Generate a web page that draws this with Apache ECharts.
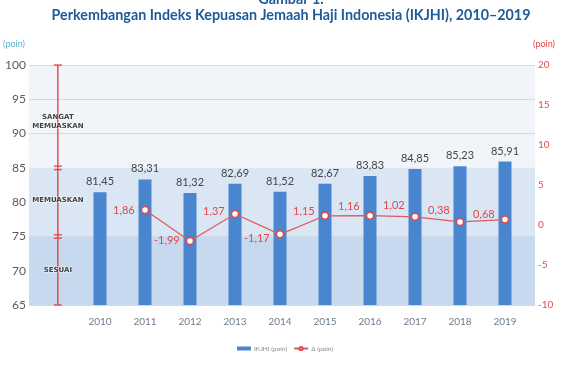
<!DOCTYPE html>
<html><head><meta charset="utf-8">
<script src="https://cdn.jsdelivr.net/npm/echarts@6/dist/echarts.min.js"></script>
<style>html,body{margin:0;padding:0;background:#fff}#c{width:582px;height:368px}</style>
</head><body><div id="c"></div>
<script>
const years = ['2010','2011','2012','2013','2014','2015','2016','2017','2018','2019'];
const ikjhi = [81.45, 83.31, 81.32, 82.69, 81.52, 82.67, 83.83, 84.85, 85.23, 85.91];
const delta = [null, 1.86, -1.99, 1.37, -1.17, 1.15, 1.16, 1.02, 0.38, 0.68];
const leftTicks = {min: 65, max: 100, interval: 5};
const rightTicks = {min: -10, max: 20, interval: 5};
const categoryBands = [
  {name: 'SANGAT\nMEMUASKAN', from: 85, to: 100, labelAt: 91.8},
  {name: 'MEMUASKAN', from: 75, to: 85, labelAt: 80.3},
  {name: 'SESUAI', from: 65, to: 75, labelAt: 70.1}
];
const bandBounds = [65, 74.75, 75.25, 84.75, 85.25, 100];

// styling only
const deltaLabelDy = [0, 0, 0, -3, 4, -4, -9, -11, -12, -5];
const bandColors = {65: '#c7d9ef', 75: '#dae6f4'};
const bracketX = 5.7;

const fmt = v => v.toFixed(2).replace('.', ',');
const chart = echarts.init(document.getElementById('c'), null, {renderer: 'canvas'});

const titleStyle = {fontFamily: 'Lato', fontWeight: 'bold', fontSize: 14.3, color: '#1d5a98'};
const option = {
  animation: false,
  title: [
    {text: 'Gambar 1.', left: 286, textAlign: 'center', top: -13, textStyle: titleStyle},
    {text: 'Perkembangan Indeks Kepuasan Jemaah Haji Indonesia (IKJHI), 2010\u20132019',
     left: 286, textAlign: 'center', top: 3, textStyle: titleStyle}
  ],
  legend: {
    top: 340, left: 232, itemGap: 6, itemWidth: 14, itemHeight: 4,
    textStyle: {fontSize: 6.5, color: '#8a8a8a', fontFamily: 'Lato', padding: [0, 0, 0, -2]},
    data: [{name: 'IKJHI (poin)', icon: 'rect'}, {name: '\u0394 (poin)'}]
  },
  grid: [
    {left: 77.5, right: 54.5, top: 65, bottom: 63},
    {left: 29, right: 47, top: 65, bottom: 63, show: true, backgroundColor: '#f1f4f9', borderWidth: 0}
  ],
  xAxis: [
    {type: 'category', gridIndex: 0, data: years,
     axisLine: {show: false}, axisTick: {show: false},
     axisLabel: {color: '#6f7b8c', fontSize: 10, margin: 12, fontFamily: 'Lato'}},
    {type: 'value', gridIndex: 1, min: 0, max: 100, show: false}
  ],
  yAxis: [
    {type: 'value', gridIndex: 0, ...leftTicks, show: false},
    {type: 'value', gridIndex: 0, ...rightTicks, show: false},
    {type: 'value', gridIndex: 1, ...leftTicks, position: 'left',
     name: '(poin)', nameLocation: 'end', nameGap: 16,
     nameTextStyle: {color: '#5ab4cc', fontSize: 9, align: 'right', padding: [0, 4, 0, 0], fontFamily: 'Lato'},
     axisLine: {show: false}, axisTick: {show: false},
     axisLabel: {color: '#5a5a5a', fontSize: 12, margin: 3, fontFamily: 'Lato'},
     splitLine: {lineStyle: {color: '#d6d9de', width: 1}}},
    {type: 'value', gridIndex: 1, ...rightTicks, position: 'right',
     name: '(poin)', nameLocation: 'end', nameGap: 16,
     nameTextStyle: {color: '#e04848', fontSize: 9, align: 'center', padding: [0, 0, 0, 18], fontFamily: 'Lato'},
     axisLine: {show: false}, axisTick: {show: false},
     axisLabel: {color: '#e05050', fontSize: 10, margin: 3, fontFamily: 'Lato'},
     splitLine: {show: false}}
  ],
  series: [
    {type: 'line', xAxisIndex: 1, yAxisIndex: 2, data: [], z: 1, silent: true,
     markArea: {silent: true, itemStyle: {opacity: 1},
       data: categoryBands.filter(b => bandColors[b.from]).map(b => [
         {xAxis: 0, yAxis: b.from, itemStyle: {color: bandColors[b.from]}},
         {xAxis: 100, yAxis: b.to}])}},
    {type: 'line', xAxisIndex: 1, yAxisIndex: 2, z: 3, silent: true, symbol: 'none',
     lineStyle: {color: '#e23a3a', width: 1.3},
     data: [[bracketX, leftTicks.min], [bracketX, leftTicks.max]]},
    {type: 'scatter', xAxisIndex: 1, yAxisIndex: 2, z: 3, silent: true,
     symbol: 'rect', symbolSize: [8, 1.5], itemStyle: {color: '#e23a3a'},
     data: bandBounds.map(v => [bracketX, v])},
    {type: 'scatter', xAxisIndex: 1, yAxisIndex: 2, z: 4, silent: true, symbolSize: 0,
     data: categoryBands.map(b => ({name: b.name, value: [bracketX, b.labelAt]})),
     label: {show: true, position: 'inside', formatter: p => p.name, fontSize: 7, fontWeight: 'bold',
       color: '#111111', lineHeight: 9, fontFamily: 'DejaVu Sans',
       textBorderColor: 'rgba(255,255,255,0.6)', textBorderWidth: 1.5}},
    {name: 'IKJHI (poin)', type: 'bar', xAxisIndex: 0, yAxisIndex: 0, z: 5,
     data: ikjhi, barWidth: 13, itemStyle: {color: '#4a85d0'},
     label: {show: true, position: 'top', distance: 5, formatter: p => fmt(p.value),
       color: '#454545', fontSize: 11, fontFamily: 'Lato'}},
    {name: '\u0394 (poin)', type: 'line', xAxisIndex: 0, yAxisIndex: 1, z: 6,
     data: delta.map((v, i) => ({value: v, label: {offset: [0, deltaLabelDy[i]]}})),
     symbol: 'circle', symbolSize: 7, showSymbol: true,
     lineStyle: {color: '#dd5a5a', width: 1.2},
     itemStyle: {color: '#ffffff', borderColor: '#dd4a4a', borderWidth: 1.5},
     label: {show: true, position: 'left', distance: 6, formatter: p => p.value == null ? '' : fmt(p.value),
       color: '#e04848', fontSize: 11, fontFamily: 'Lato'}}
  ]
};
chart.setOption(option);
</script></body></html>
